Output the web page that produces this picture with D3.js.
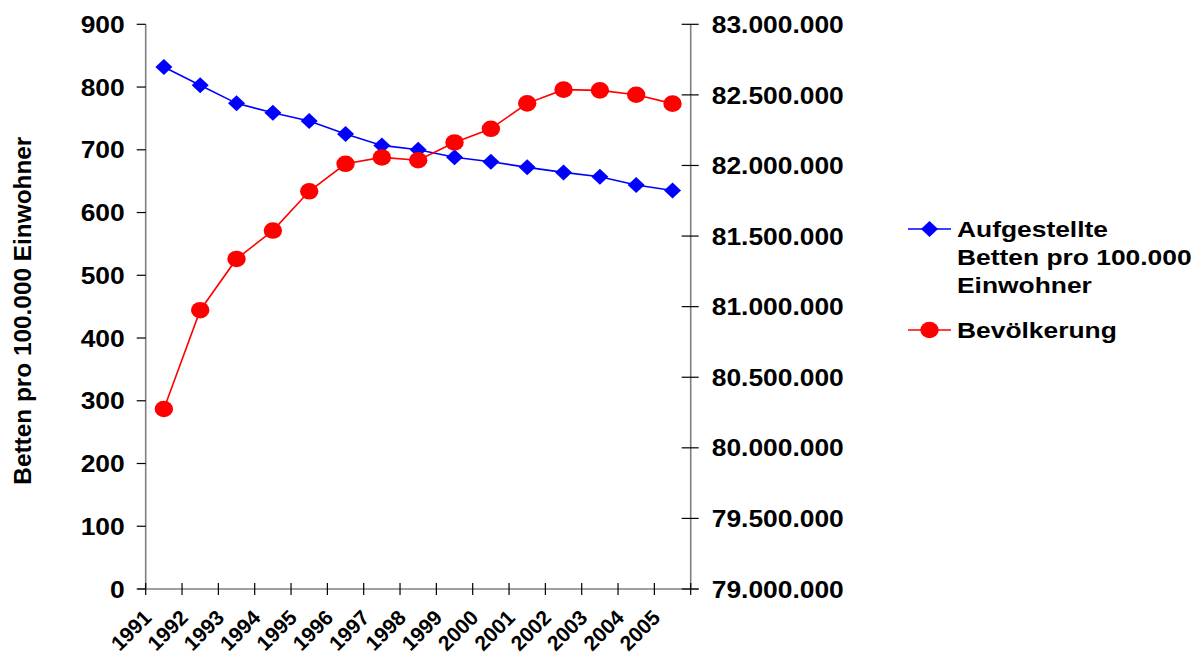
<!DOCTYPE html>
<html>
<head>
<meta charset="utf-8">
<script src="https://cdn.jsdelivr.net/npm/d3@7"></script>
<style>
  html, body { margin: 0; padding: 0; background: #fff; }
  svg { display: block; }
  text { font-family: "Liberation Sans", Arial, sans-serif; font-weight: bold; fill: #000; }
</style>
</head>
<body>
<svg id="chart" width="1203" height="654"></svg>
<script>
// ---- data ----
const years = ["1991","1992","1993","1994","1995","1996","1997","1998","1999","2000","2001","2002","2003","2004","2005"];
const beds = [832, 803, 774, 759, 746, 725, 707, 700, 688, 681, 672, 664, 657, 644, 635];
const population = [80275000, 80975000, 81338000, 81539000, 81817000, 82012000, 82057000, 82037000, 82163000, 82260000, 82440000, 82537000, 82532000, 82501000, 82438000];
const leftTicks = [0, 100, 200, 300, 400, 500, 600, 700, 800, 900];
const rightTicks = [79000000, 79500000, 80000000, 80500000, 81000000, 81500000, 82000000, 82500000, 83000000];
const legendBeds = ["Aufgestellte", "Betten pro 100.000", "Einwohner"];
const legendPop = "Bevölkerung";
const yTitle = "Betten pro 100.000 Einwohner";

// ---- layout ----
const svg = d3.select("#chart");
const X0 = 145.7, X1 = 690.7, Y0 = 589, Y1 = 24.3;
const SX = 1.1;      // horizontal stretch of axis labels
const SXL = 1.2;     // horizontal stretch of legend text

const x = d3.scaleBand().domain(years).range([X0, X1]).padding(0);
const yL = d3.scaleLinear().domain([0, 900]).range([Y0, Y1]);
const yR = d3.scaleLinear().domain([79000000, 83000000]).range([Y0, Y1]);
const cx = d => x(d) + x.bandwidth() / 2;

const fmt = v => d3.format(",")(v).replace(/,/g, ".");

// axis lines (grey)
const axisColor = "#7f7f7f";
svg.append("line").attr("x1", X0).attr("x2", X0).attr("y1", Y1).attr("y2", Y0)
  .attr("stroke", axisColor).attr("stroke-width", 1.6);
svg.append("line").attr("x1", X1).attr("x2", X1).attr("y1", Y1).attr("y2", Y0)
  .attr("stroke", axisColor).attr("stroke-width", 1.6);
svg.append("line").attr("x1", X0 - 8).attr("x2", X1 + 8).attr("y1", Y0).attr("y2", Y0)
  .attr("stroke", axisColor).attr("stroke-width", 1.6);

// left ticks + labels
const gl = svg.append("g");
leftTicks.forEach(t => {
  gl.append("line").attr("x1", X0 - 9).attr("x2", X0).attr("y1", yL(t)).attr("y2", yL(t))
    .attr("stroke", "#000").attr("stroke-width", 1.2);
  gl.append("text").attr("transform", `translate(${X0 - 21},${yL(t)}) scale(${SX},1)`)
    .attr("text-anchor", "end").attr("dy", "0.36em").style("font-size", "24px").text(fmt(t));
});

// right ticks + labels
const gr = svg.append("g");
rightTicks.forEach(t => {
  gr.append("line").attr("x1", X1 - 9).attr("x2", X1 + 8).attr("y1", yR(t)).attr("y2", yR(t))
    .attr("stroke", "#000").attr("stroke-width", 1.2);
  gr.append("text").attr("transform", `translate(${X1 + 21},${yR(t)}) scale(${SX},1)`)
    .attr("text-anchor", "start").attr("dy", "0.36em").style("font-size", "24px").text(fmt(t));
});

// x ticks + labels
const gx = svg.append("g");
years.forEach((yv, i) => {
  gx.append("line").attr("x1", x(yv)).attr("x2", x(yv)).attr("y1", Y0 - 6).attr("y2", Y0 + 6)
    .attr("stroke", "#000").attr("stroke-width", 1.2);
  gx.append("text").attr("transform", `translate(${cx(yv) - 11},${Y0 + 30}) rotate(-45)`)
    .attr("text-anchor", "end").style("font-size", "21px").text(yv);
});
gx.append("line").attr("x1", X1).attr("x2", X1).attr("y1", Y0 - 6).attr("y2", Y0 + 6)
  .attr("stroke", "#000").attr("stroke-width", 1.2);

// y title
svg.append("text").attr("transform", `translate(31,${(Y0 + Y1) / 2 + 4}) rotate(-90) scale(1.06,1)`)
  .attr("text-anchor", "middle").style("font-size", "23px").text(yTitle);

// lines
const lineBeds = d3.line().x((d, i) => cx(years[i])).y(d => yL(d));
const linePop = d3.line().x((d, i) => cx(years[i])).y(d => yR(d));

svg.append("path").datum(beds).attr("d", lineBeds).attr("fill", "none")
  .attr("stroke", "#0000ff").attr("stroke-width", 1.6);
svg.append("path").datum(population).attr("d", linePop).attr("fill", "none")
  .attr("stroke", "#ff0000").attr("stroke-width", 1.6);

const diamond = (px, py) => `M${px},${py - 8}L${px + 8.5},${py}L${px},${py + 8}L${px - 8.5},${py}Z`;

svg.append("g").selectAll("path").data(beds).join("path")
  .attr("d", (d, i) => diamond(cx(years[i]), yL(d))).attr("fill", "#0000ff");
svg.append("g").selectAll("ellipse").data(population).join("ellipse")
  .attr("cx", (d, i) => cx(years[i])).attr("cy", d => yR(d)).attr("rx", 9.2).attr("ry", 8.3)
  .attr("fill", "#ff0000");

// legend
const lg = svg.append("g");
const LX0 = 908, LX1 = 951, LT = 957;
lg.append("line").attr("x1", LX0).attr("x2", LX1).attr("y1", 229).attr("y2", 229)
  .attr("stroke", "#0000ff").attr("stroke-width", 1.6);
lg.append("path").attr("d", diamond(929.5, 229)).attr("fill", "#0000ff");
legendBeds.forEach((t, i) => {
  lg.append("text").attr("transform", `translate(${LT},${237 + i * 28}) scale(${SXL},1)`)
    .style("font-size", "22px").text(t);
});
lg.append("line").attr("x1", LX0).attr("x2", LX1).attr("y1", 330).attr("y2", 330)
  .attr("stroke", "#ff0000").attr("stroke-width", 1.6);
lg.append("ellipse").attr("cx", 929.5).attr("cy", 330).attr("rx", 9.2).attr("ry", 8.3).attr("fill", "#ff0000");
lg.append("text").attr("transform", `translate(${LT},338) scale(${SXL},1)`)
  .style("font-size", "22px").text(legendPop);
</script>
</body>
</html>
